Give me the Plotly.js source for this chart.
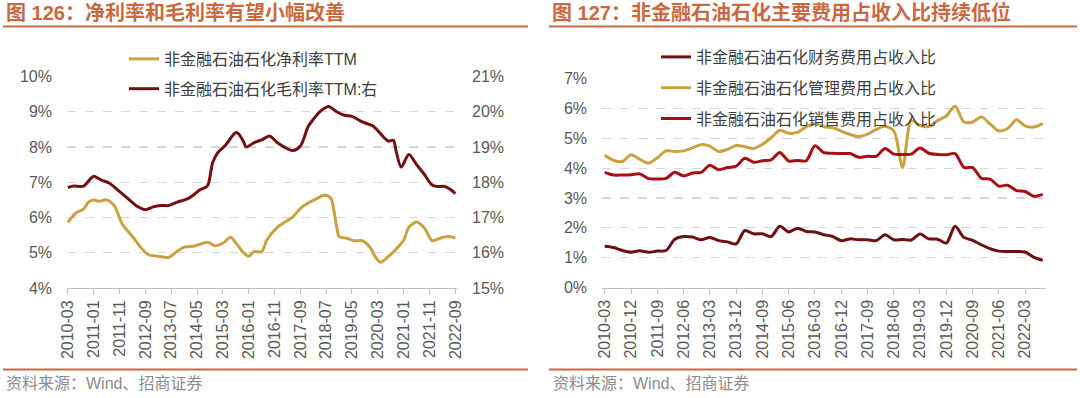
<!DOCTYPE html>
<html><head><meta charset="utf-8">
<script src="https://cdn.plot.ly/plotly-3.0.1.min.js"></script>
<style>body{margin:0;background:#fff}#chart{width:1080px;height:398px}</style>
</head><body><div id="chart"></div>
<script>
// ---------- Left chart data (figure 126) ----------
const netDates = ['2010-03','2010-06','2010-09','2010-11','2011-01','2011-03','2011-06','2011-09','2011-12','2012-04',
  '2012-07','2012-10','2013-02','2013-06','2013-09','2013-12','2014-04','2014-09','2014-12','2015-03',
  '2015-06','2015-08','2015-11','2016-01','2016-03','2016-06','2016-08','2016-12','2017-03','2017-06',
  '2017-09','2017-12','2018-03','2018-06','2018-08','2018-09','2018-11','2018-12','2019-03','2019-06',
  '2019-09','2019-12','2020-02','2020-04','2020-07','2020-10','2021-01','2021-03','2021-06','2021-09',
  '2021-12','2022-03','2022-06','2022-09'];
const netMargin = [5.86,6.12,6.24,6.44,6.50,6.46,6.50,6.33,5.82,5.46,
  5.17,4.95,4.90,4.87,5.03,5.16,5.19,5.30,5.20,5.27,
  5.44,5.28,5.00,4.90,5.03,5.03,5.36,5.72,5.87,6.01,
  6.26,6.41,6.52,6.63,6.60,6.52,5.75,5.46,5.41,5.34,
  5.34,5.15,4.88,4.73,4.89,5.10,5.36,5.72,5.87,5.70,
  5.34,5.41,5.46,5.42];
const grossDates = ['2010-03','2010-05','2010-09','2010-12','2011-01','2011-04','2011-07','2011-10','2012-02','2012-06',
  '2012-09','2012-12','2013-03','2013-06','2013-09','2014-01','2014-03','2014-06','2014-09','2014-11',
  '2015-01','2015-04','2015-06','2015-08','2015-09','2015-11','2015-12','2016-03','2016-06','2016-09',
  '2016-12','2017-03','2017-06','2017-09','2017-12','2018-02','2018-05','2018-08','2018-11','2019-02',
  '2019-05','2019-09','2020-01','2020-04','2020-07','2020-09','2020-10','2020-12','2021-03','2021-06',
  '2021-09','2021-12','2022-02','2022-05','2022-07','2022-09'];
const grossMargin = [17.85,17.89,17.89,18.12,18.17,18.06,17.98,17.80,17.55,17.31,
  17.22,17.30,17.34,17.34,17.43,17.52,17.60,17.78,17.90,18.55,
  18.84,19.05,19.25,19.41,19.38,19.15,19.00,19.12,19.20,19.31,
  19.13,18.99,18.90,19.03,19.58,19.79,20.03,20.15,20.00,19.90,
  19.87,19.71,19.60,19.38,19.17,19.19,18.90,18.43,18.79,18.50,
  18.22,17.92,17.88,17.88,17.80,17.68];
const leftTicks = ['2010-03','2011-01','2011-11','2012-09','2013-07','2014-05','2015-03','2016-01',
  '2016-11','2017-09','2018-07','2019-05','2020-03','2021-01','2021-11','2022-09'];

// ---------- Right chart data (figure 127) ----------
const quarters = ['2010-03','2010-06','2010-09','2010-12','2011-03','2011-06','2011-09','2011-12',
  '2012-03','2012-06','2012-09','2012-12','2013-03','2013-06','2013-09','2013-12',
  '2014-03','2014-06','2014-09','2014-12','2015-03','2015-06','2015-09','2015-12',
  '2016-03','2016-06','2016-09','2016-12','2017-03','2017-06','2017-09','2017-12',
  '2018-03','2018-06','2018-09','2018-12','2019-03','2019-06','2019-09','2019-12',
  '2020-03','2020-06','2020-09','2020-12','2021-03','2021-06','2021-09','2021-12',
  '2022-03','2022-06','2022-09'];
const finExp = [1.38,1.34,1.24,1.18,1.23,1.18,1.22,1.24,1.62,1.71,
  1.69,1.60,1.68,1.57,1.53,1.46,1.91,1.80,1.80,1.71,
  2.05,1.86,1.99,1.88,1.86,1.77,1.71,1.57,1.63,1.60,
  1.60,1.57,1.77,1.60,1.61,1.59,1.79,1.63,1.62,1.49,
  2.05,1.68,1.58,1.43,1.30,1.22,1.21,1.21,1.19,1.01,0.91];
const adminExp = [4.43,4.26,4.22,4.45,4.30,4.17,4.35,4.58,4.56,4.58,
  4.68,4.79,4.74,4.56,4.63,4.76,4.72,4.66,4.80,5.02,
  5.27,5.17,5.20,5.38,5.50,5.39,5.36,5.24,5.13,5.06,
  5.14,5.30,5.41,5.25,4.02,5.60,5.43,5.40,5.60,5.75,
  6.08,5.55,5.55,5.72,5.48,5.25,5.33,5.62,5.42,5.38,5.50];
const salesExp = [3.86,3.77,3.77,3.78,3.81,3.65,3.64,3.66,3.86,3.74,
  3.84,3.86,4.10,3.95,4.02,4.07,4.33,4.20,4.25,4.28,
  4.53,4.24,4.26,4.25,4.75,4.52,4.50,4.49,4.49,4.37,
  4.40,4.40,4.66,4.47,4.46,4.47,4.68,4.50,4.46,4.45,
  4.49,4.03,4.02,3.66,3.63,3.40,3.43,3.25,3.22,3.06,3.12];
const rightTicks = ['2010-03','2010-12','2011-09','2012-06','2013-03','2013-12','2014-09','2015-06',
  '2016-03','2016-12','2017-09','2018-06','2019-03','2019-12','2020-09','2021-06','2022-03'];

const names = {
  net: '非金融石油石化净利率TTM',
  gross: '非金融石油石化毛利率TTM:右',
  fin: '非金融石油石化财务费用占收入比',
  admin: '非金融石油石化管理费用占收入比',
  sales: '非金融石油石化销售费用占收入比'
};

const FONT = "'Liberation Sans', Arial, 'Noto Sans CJK SC', sans-serif";
const GOLD = '#C9A13F', DARK = '#721012', MAROON = '#6E0F10', RED = '#A90E13';
const TITLE = '#C8693F', GRID = '#D6D6D6', AXIS = '#BFBFBF', TICKC = '#595959';
const W = 1080, H = 398;
const px = v => v / W, py = v => (H - v) / H;

const lineStyle = c => ({color: c, width: 3, shape: 'spline', smoothing: 0.8});

const traces = [
  {x: netDates, y: netMargin, name: names.net, type: 'scatter', mode: 'lines', line: lineStyle(GOLD),
   xaxis: 'x', yaxis: 'y', legend: 'legend', legendgroup: 'a'},
  {x: grossDates, y: grossMargin, name: names.gross, type: 'scatter', mode: 'lines', line: lineStyle(DARK),
   xaxis: 'x', yaxis: 'y2', legend: 'legend', legendgroup: 'b'},
  {x: quarters, y: finExp, name: names.fin, type: 'scatter', mode: 'lines', line: lineStyle(MAROON),
   xaxis: 'x2', yaxis: 'y3', legend: 'legend2', legendgroup: 'c'},
  {x: quarters, y: adminExp, name: names.admin, type: 'scatter', mode: 'lines', line: lineStyle(GOLD),
   xaxis: 'x2', yaxis: 'y3', legend: 'legend2', legendgroup: 'd'},
  {x: quarters, y: salesExp, name: names.sales, type: 'scatter', mode: 'lines', line: lineStyle(RED),
   xaxis: 'x2', yaxis: 'y3', legend: 'legend2', legendgroup: 'e'}
];

const xBase = {
  type: 'date', tickmode: 'array', tickangle: -90, ticks: 'outside', ticklen: 5, tickcolor: AXIS,
  showline: true, linecolor: AXIS, linewidth: 1, showgrid: false, zeroline: false,
  tickfont: {family: FONT, size: 16, color: TICKC}, automargin: false, fixedrange: true
};
const yBase = {
  dtick: 1, ticksuffix: '%', showgrid: true, gridcolor: GRID, griddash: 'dash', gridwidth: 1.3,
  zeroline: false, showline: false, ticks: '', tickfont: {family: FONT, size: 16, color: TICKC},
  automargin: false, fixedrange: true, ticklabelstandoff: 14
};

const layout = {
  width: W, height: H, margin: {l: 0, r: 0, t: 0, b: 0},
  paper_bgcolor: '#ffffff', plot_bgcolor: 'rgba(0,0,0,0)', showlegend: true,
  xaxis: Object.assign({}, xBase, {domain: [px(67), px(457)], range: ['2010-02-19', '2022-09-20'],
    tickvals: leftTicks, ticktext: leftTicks, anchor: 'y'}),
  yaxis: Object.assign({}, yBase, {domain: [py(288), py(76.5)], range: [4, 10], anchor: 'x'}),
  yaxis2: Object.assign({}, yBase, {domain: [py(288), py(76.5)], range: [15, 21], overlaying: 'y',
    side: 'right', showgrid: false, anchor: 'x'}),
  xaxis2: Object.assign({}, xBase, {domain: [px(602), px(1046)], range: ['2010-02-01', '2022-10-05'],
    tickvals: rightTicks, ticktext: rightTicks, anchor: 'y3'}),
  yaxis3: Object.assign({}, yBase, {domain: [py(287.5), py(78.7)], range: [0, 7], anchor: 'x2'}),
  legend: {x: px(124), xanchor: 'left', y: py(42), yanchor: 'top', bgcolor: 'rgba(255,255,255,0)', borderwidth: 0,
    font: {family: FONT, size: 16, color: '#404040'}, traceorder: 'grouped', tracegroupgap: 6},
  legend2: {x: px(656), xanchor: 'left', y: py(40), yanchor: 'top', bgcolor: 'rgba(255,255,255,0)', borderwidth: 0,
    font: {family: FONT, size: 16, color: '#404040'}, traceorder: 'grouped', tracegroupgap: 7},
  shapes: [
    {type: 'line', xref: 'paper', yref: 'paper', x0: px(3), x1: px(528), y0: py(26.5), y1: py(26.5), line: {color: TITLE, width: 2}},
    {type: 'line', xref: 'paper', yref: 'paper', x0: px(549), x1: px(1077), y0: py(26.5), y1: py(26.5), line: {color: TITLE, width: 2}},
    {type: 'line', xref: 'paper', yref: 'paper', x0: px(3), x1: px(528), y0: py(369.5), y1: py(369.5), line: {color: TITLE, width: 2}},
    {type: 'line', xref: 'paper', yref: 'paper', x0: px(549), x1: px(1077), y0: py(369.5), y1: py(369.5), line: {color: TITLE, width: 2}}
  ],
  annotations: [
    {text: '<b>图 126：净利率和毛利率有望小幅改善</b>', xref: 'paper', yref: 'paper', x: px(4), y: py(13),
     xanchor: 'left', yanchor: 'middle', showarrow: false, font: {family: FONT, size: 20, color: TITLE}},
    {text: '<b>图 127：非金融石油石化主要费用占收入比持续低位</b>', xref: 'paper', yref: 'paper', x: px(550), y: py(13),
     xanchor: 'left', yanchor: 'middle', showarrow: false, font: {family: FONT, size: 20, color: TITLE}},
    {text: '资料来源：Wind、招商证券', xref: 'paper', yref: 'paper', x: px(4), y: py(383),
     xanchor: 'left', yanchor: 'middle', showarrow: false, font: {family: FONT, size: 16, color: '#8C8C8C'}},
    {text: '资料来源：Wind、招商证券', xref: 'paper', yref: 'paper', x: px(551), y: py(383),
     xanchor: 'left', yanchor: 'middle', showarrow: false, font: {family: FONT, size: 16, color: '#8C8C8C'}}
  ]
};

Plotly.newPlot('chart', traces, layout, {displayModeBar: false, staticPlot: true});
</script></body></html>
